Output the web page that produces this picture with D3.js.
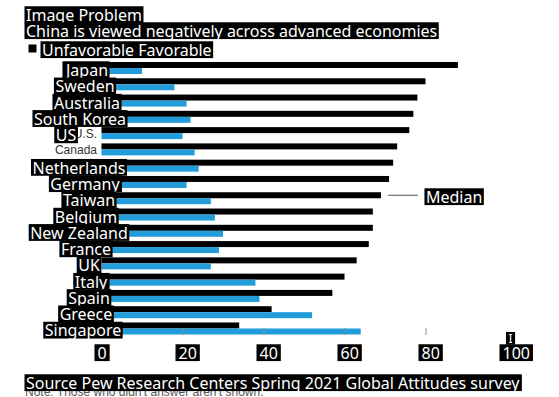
<!DOCTYPE html>
<html>
<head>
<meta charset="utf-8">
<script src="https://cdn.jsdelivr.net/npm/d3@7"></script>
<style>
  body { margin: 0; background: #fff; }
  svg { display: block; }
  .box-text { font-family: "Noto Sans", sans-serif; fill: #fff; }
  .orig-label { font-family: "Liberation Sans", Arial, sans-serif; fill: #333; }
</style>
</head>
<body>
<div id="chart"></div>
<script>
// data
const countries = ["Japan", "Sweden", "Australia", "South Korea", "U.S.", "Canada", "Netherlands", "Germany",
  "Taiwan", "Belgium", "New Zealand", "France", "UK", "Italy", "Spain", "Greece", "Singapore"];
const overlayNames = ["Japan", "Sweden", "Australia", "South Korea", "US", null, "Netherlands", "Germany",
  "Taiwan", "Belgium", "New Zealand", "France", "UK", "Italy", "Spain", "Greece", "Singapore"];
const unfavorable = [88, 80, 78, 77, 76, 73, 72, 71, 69, 67, 67, 66, 63, 60, 57, 42, 34];
const favorable = [10, 18, 21, 22, 20, 23, 24, 21, 27, 28, 30, 29, 27, 38, 39, 52, 64];
const series = ["Unfavorable", "Favorable"];
const xTicks = [0, 20, 40, 60, 80, 100];
const medianCountry = "Taiwan";

const title = "Image Problem";
const subtitle = "China is viewed negatively across advanced economies";
const source = "Source Pew Research Centers Spring 2021 Global Attitudes survey";
const note = "Note: Those who didn't answer aren't shown.";

// layout of the overlaid label boxes (centre x of each country box)
const labelCenter = [87, 85, 87, 80, 66, null, 79, 85, 89, 86, 79, 86, 89, 91, 89, 86, 83];

const width = 559, height = 397;
const colors = { Unfavorable: "#000", Favorable: "#229dda" };

const svg = d3.select("#chart").append("svg").attr("width", width).attr("height", height);

const rows = countries.map((c, i) => ({ country: c, Unfavorable: unfavorable[i], Favorable: favorable[i] }));

const x = d3.scaleLinear().domain([0, 100]).range([101.5, 506.5]);
const y = d3.scaleBand().domain(countries).range([62, 62 + 17 * 16.28]);
const yInner = d3.scaleBand().domain(series).range([0, 12]);

// white text on a black box, like the reference overlay
function boxText(g, text, px, baseline, size, anchor, pad) {
  pad = pad || 1.5;
  const t = g.append("text")
    .attr("class", "box-text")
    .attr("x", px).attr("y", baseline)
    .attr("text-anchor", anchor || "start")
    .style("font-size", size + "px")
    .text(text);
  const bb = t.node().getBBox();
  g.insert("rect", function() { return t.node(); })
    .attr("x", bb.x - pad)
    .attr("y", baseline - size * 0.92)
    .attr("width", bb.width + pad * 2)
    .attr("height", size * 1.05)
    .attr("fill", "#000");
  return t;
}

// original chart labels that the overlay does not replace
svg.append("g").selectAll("text")
  .data(countries.filter((c, i) => overlayNames[i] !== c))
  .enter()
  .append("text")
  .attr("class", "orig-label")
  .attr("x", 97)
  .attr("y", d => y(d) + 11)
  .attr("text-anchor", "end")
  .style("font-size", "12px")
  .text(d => d);

// bars
const bars = svg.append("g");
rows.forEach(r => {
  bars.selectAll(null)
    .data(series)
    .enter()
    .append("rect")
    .attr("x", x(0))
    .attr("y", s => y(r.country) + yInner(s))
    .attr("width", s => x(r[s]) - x(0))
    .attr("height", yInner.bandwidth())
    .attr("fill", s => colors[s]);
});

// axis ticks
const axis = svg.append("g")
  .attr("transform", "translate(0,328)")
  .call(d3.axisBottom(x).tickValues(xTicks.slice(1, -1)).tickSize(7).tickFormat(""));
axis.select(".domain").remove();
axis.selectAll("line").attr("stroke", "#888");

// median marker
const mIdx = countries.indexOf(medianCountry);
const my = y(medianCountry) + 3;
svg.append("line")
  .attr("x1", x(unfavorable[mIdx]) + 7).attr("x2", x(unfavorable[mIdx]) + 37)
  .attr("y1", my).attr("y2", my)
  .attr("stroke", "#555").attr("stroke-width", 1);

const overlay = svg.append("g");

boxText(overlay, "Median", x(unfavorable[mIdx]) + 45, 203, 16);

// country label boxes
overlayNames.forEach((n, i) => {
  if (!n) return;
  boxText(overlay, n, labelCenter[i], y(countries[i]) + 14, 16, "middle");
});

// tick label boxes
xTicks.forEach(v => {
  boxText(overlay, String(v), x(v) - 4, 359, 16, "start", 3);
});
boxText(overlay, "I", x(100) + 2, 343, 12, "start", 2.5);

// titles and legend
boxText(overlay, title, 26, 21, 16);
boxText(overlay, subtitle, 26, 37, 16);
overlay.append("rect").attr("x", 28.5).attr("y", 44.5).attr("width", 8).attr("height", 8).attr("fill", colors.Unfavorable);
boxText(overlay, series.join(" "), 42, 56, 16);

// note under the source
svg.append("text")
  .attr("class", "orig-label")
  .attr("x", 25).attr("y", 396)
  .style("font-size", "12px")
  .style("fill", "#555")
  .text(note);
boxText(overlay, source, 26, 389, 16);
overlay.raise();
</script>
</body>
</html>
